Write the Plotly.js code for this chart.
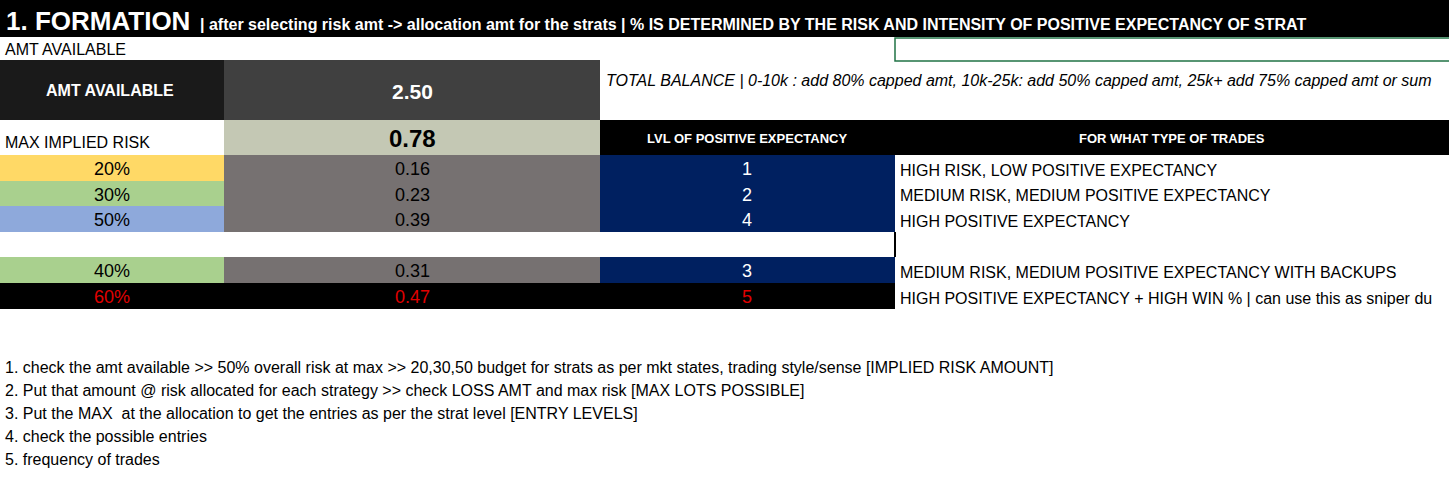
<!DOCTYPE html>
<html>
<head>
<script src="https://cdn.plot.ly/plotly-3.0.1.min.js"></script>
<style>body{margin:0}#sheet{width:1449px;height:479px}</style>
</head>
<body>
<div id="sheet"></div>
<script>
// sheet data
const riskPct = ["20%", "30%", "50%", "", "40%", "60%"];
const riskAmt = ["0.16", "0.23", "0.39", "", "0.31", "0.47"];
const lvl = ["1", "2", "4", "", "3", "5"];
const tradeType = [
  "HIGH RISK, LOW POSITIVE EXPECTANCY",
  "MEDIUM RISK, MEDIUM POSITIVE EXPECTANCY",
  "HIGH POSITIVE EXPECTANCY",
  "",
  "MEDIUM RISK, MEDIUM POSITIVE EXPECTANCY WITH BACKUPS",
  "HIGH POSITIVE EXPECTANCY + HIGH WIN % | can use this as sniper du",
];
const pctColors = ["#ffd966", "#a9d08e", "#8ea9db", null, "#a9d08e", "#000000"];
const amtAvailable = "2.50";
const maxImpliedRisk = "0.78";
const notes = [
  "1. check the amt available >> 50% overall risk at max >> 20,30,50 budget for strats as per mkt states, trading style/sense [IMPLIED RISK AMOUNT]",
  "2. Put that amount @ risk allocated for each strategy >> check LOSS AMT and max risk [MAX LOTS POSSIBLE]",
  "3. Put the MAX  at the allocation to get the entries as per the strat level [ENTRY LEVELS]",
  "4. check the possible entries",
  "5. frequency of trades",
];

// grid geometry
const colX = [0, 224, 600, 895, 1449];
const rowY = [155, 181, 206, 232, 257, 283, 309];
const noteY = [367, 390, 413, 436, 459];

const shapes = [];
const ann = [];
const font = "Liberation Sans, Arial, sans-serif";

function rect(x0, y0, x1, y1, fill, line) {
  shapes.push({type: "rect", xref: "x", yref: "y", x0, y0, x1, y1,
    fillcolor: fill, line: line || {width: 0}, layer: "below"});
}
function txt(x, y, text, size, color, opts) {
  ann.push(Object.assign({x, y, xref: "x", yref: "y", text, showarrow: false,
    font: {family: font, size, color}, xanchor: "left", yanchor: "middle"}, opts || {}));
}

// title bar
rect(0, 0, 1449, 37, "#000000");
txt(4, 21, "<b>1. FORMATION</b>", 26, "#ffffff");
txt(198, 24, "<b>| after selecting risk amt -> allocation amt for the strats | % IS DETERMINED BY THE RISK AND INTENSITY OF POSITIVE EXPECTANCY OF STRAT</b>", 16, "#ffffff");
rect(895, 38, 1452, 61, "rgba(0,0,0,0)", {color: "#217346", width: 1.5});
txt(3, 49, "AMT AVAILABLE", 16, "#000000");

// amt available row
rect(colX[0], 60, colX[1], 120, "#1a1a1a");
rect(colX[1], 60, colX[2], 120, "#404040");
txt(110, 90, "<b>AMT AVAILABLE</b>", 16, "#ffffff", {xanchor: "center"});
txt(412, 91, "<b>" + amtAvailable + "</b>", 21, "#ffffff", {xanchor: "center"});
txt(604, 80, "<i>TOTAL BALANCE | 0-10k : add 80% capped amt, 10k-25k: add 50% capped amt, 25k+ add 75% capped amt or sum</i>", 16, "#000000");

// max implied risk row
rect(colX[1], 120, colX[2], 155, "#c4c8b4");
rect(colX[2], 120, colX[4], 155, "#000000");
txt(3, 142, "MAX IMPLIED RISK", 16, "#000000");
txt(412, 138, "<b>" + maxImpliedRisk + "</b>", 24, "#000000", {xanchor: "center"});
txt(747, 138, "<b>LVL OF POSITIVE EXPECTANCY</b>", 13, "#ffffff", {xanchor: "center"});
txt(1172, 138, "<b>FOR WHAT TYPE OF TRADES</b>", 13, "#ffffff", {xanchor: "center"});

// strategy rows
riskPct.forEach((p, i) => {
  const y0 = rowY[i], y1 = rowY[i + 1], ym = (y0 + y1) / 2;
  if (p === "") {
    shapes.push({type: "line", x0: 895, x1: 895, y0, y1, line: {color: "#000", width: 2}});
    return;
  }
  const last = i === riskPct.length - 1;
  rect(colX[0], y0, colX[1], y1, pctColors[i]);
  rect(colX[1], y0, colX[2], y1, last ? "#000000" : "#767171");
  rect(colX[2], y0, colX[3], y1, last ? "#000000" : "#002060");
  const c = last ? "#e00000" : "#000000";
  txt(112, ym + 1, p, 18, c, {xanchor: "center"});
  txt(412, ym + 1, riskAmt[i], 18, c, {xanchor: "center"});
  txt(747, ym + 1, lvl[i], 18, last ? "#e00000" : "#ffffff", {xanchor: "center"});
  txt(898, ym + 2, tradeType[i], 16, "#000000");
});

// notes
notes.forEach((n, i) => txt(3, noteY[i], n, 16, "#000000"));

Plotly.newPlot("sheet", [{x: [0], y: [0], mode: "markers", marker: {opacity: 0}, hoverinfo: "skip"}], {
  width: 1449, height: 479,
  margin: {t: 0, r: 0, l: 0, b: 0},
  paper_bgcolor: "#ffffff", plot_bgcolor: "#ffffff",
  xaxis: {range: [0, 1449], visible: false, fixedrange: true},
  yaxis: {range: [479, 0], visible: false, fixedrange: true},
  shapes, annotations: ann, showlegend: false,
}, {staticPlot: true});
</script>
</body>
</html>
